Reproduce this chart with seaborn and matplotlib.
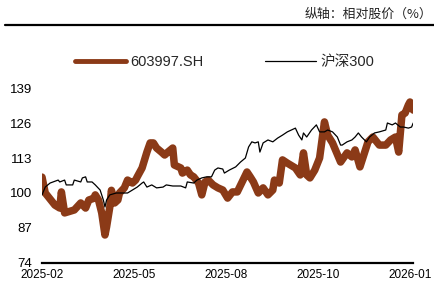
import pandas as pd
import matplotlib.pyplot as plt
import seaborn as sns
from matplotlib.lines import Line2D

# trading-day index and relative price (%)
stock_day = [0, 2, 8, 11, 12, 14, 20, 24, 27, 29, 32, 33, 35, 37, 39, 40, 42, 43, 45, 47,
             48, 51, 53, 56, 58, 59, 62, 65, 67, 69, 71, 74, 76, 78, 81, 82, 86, 87, 90, 92,
             94, 97, 99, 101, 103, 106, 109, 112, 115, 118, 121, 127, 129, 131, 134, 137, 140, 143, 144, 147,
             149, 152, 157, 160, 162, 164, 166, 169, 172, 175, 177, 180, 185, 189, 192, 194, 197, 202, 205, 209,
             213, 216, 219, 221, 223, 225, 227, 228, 230]
stock_val = [105.9, 100.0, 95.5, 94.4, 100.4, 92.6, 93.7, 96.3, 94.4, 97.4, 98.0, 99.3, 97.4, 92.6, 84.4, 87.4, 94.8, 101.0, 96.3, 97.4,
             100.0, 101.9, 104.8, 103.7, 104.8, 106.0, 109.3, 115.2, 118.6, 118.6, 116.7, 115.2, 114.1, 115.2, 116.7, 110.4, 109.3, 107.4, 108.5, 106.7,
             106.0, 103.7, 99.3, 104.1, 104.8, 103.0, 101.9, 101.1, 98.1, 100.4, 100.4, 107.8, 106.0, 104.1, 100.0, 101.9, 99.3, 101.1, 104.8, 103.7,
             112.3, 111.1, 109.3, 106.7, 114.9, 106.7, 105.6, 108.5, 113.0, 126.4, 121.5, 118.6, 111.5, 114.9, 113.4, 116.0, 109.7, 119.0, 120.8, 117.8,
             117.8, 119.7, 120.8, 115.2, 129.0, 129.7, 132.7, 133.8, 130.8]

hs300_day = [0, 2, 5, 10, 11, 14, 15, 19, 20, 24, 25, 27, 28, 31, 33, 36, 38, 39, 40, 42,
             46, 50, 53, 56, 59, 62, 63, 65, 68, 71, 75, 77, 81, 86, 89, 90, 94, 96, 99, 102,
             105, 107, 109, 112, 113, 116, 120, 123, 126, 128, 130, 132, 134, 135, 137, 140, 143, 146, 149, 151,
             152, 157, 159, 161, 162, 164, 167, 170, 172, 175, 177, 180, 183, 185, 186, 189, 192, 194, 196, 198,
             201, 203, 206, 209, 213, 214, 217, 219, 222, 224, 227, 229, 230]
hs300_val = [99.3, 102.2, 103.7, 104.8, 104.1, 104.8, 103.0, 103.0, 104.8, 104.1, 105.6, 106.0, 104.1, 104.1, 103.0, 101.1, 97.4, 94.8, 97.4, 99.3,
             100.0, 100.0, 100.0, 101.1, 102.2, 103.7, 104.1, 102.2, 103.0, 101.9, 102.2, 103.0, 102.6, 102.6, 101.9, 104.1, 103.7, 104.8, 105.6, 106.0,
             106.0, 108.5, 109.3, 108.9, 107.4, 108.5, 109.7, 111.5, 113.0, 117.1, 119.0, 118.6, 119.0, 115.2, 118.6, 119.7, 119.0, 120.4, 121.5, 122.3,
             122.7, 124.1, 121.5, 119.7, 122.3, 120.8, 123.4, 125.3, 122.7, 122.7, 123.4, 122.7, 120.8, 117.8, 117.8, 119.0, 119.7, 120.8, 122.3, 120.8,
             119.0, 120.8, 122.3, 122.7, 123.4, 126.0, 125.3, 126.0, 124.5, 124.5, 124.1, 124.5, 126.0]

tick_days = [0, 57, 114, 171, 228]
tick_labels = ['2025-02', '2025-05', '2025-08', '2025-10', '2026-01']
y_ticks = [74, 87, 100, 113, 126, 139]

sns.set_style('white')
plt.rcParams['font.family'] = ['Liberation Sans', 'Noto Sans CJK SC', 'DejaVu Sans']

fig = plt.figure(figsize=(4.35, 3.04), dpi=100)
ax = fig.add_axes([0.0966, 0.1349, 0.8533, 0.5756])

df_s = pd.DataFrame({'day': stock_day, 'val': stock_val})
df_h = pd.DataFrame({'day': hs300_day, 'val': hs300_val})
sns.lineplot(data=df_s, x='day', y='val', ax=ax, color='#8B3A17', linewidth=5.4,
             solid_capstyle='round', solid_joinstyle='round', label='603997.SH', legend=False)
sns.lineplot(data=df_h, x='day', y='val', ax=ax, color='black', linewidth=0.9,
             label='沪深300', legend=False)

ax.set_xlim(0, 230)
ax.set_ylim(74, 139)
ax.set_yticks(y_ticks)
ax.set_xticks(tick_days)
ax.set_xticklabels(tick_labels)
ax.set_xlabel('')
ax.set_ylabel('')
for s in ['top', 'right', 'left']:
    ax.spines[s].set_visible(False)
ax.spines['bottom'].set_linewidth(1.6)
ax.spines['bottom'].set_color('black')
ax.tick_params(axis='x', direction='inout', length=4, width=1, labelsize=8.5, pad=2.5, colors='black')
ax.tick_params(axis='y', length=0, labelsize=9.5, pad=7, labelcolor='black')

# header
fig.text(0.994, 0.952, '纵轴：相对股价（%）', ha='right', va='center', fontsize=9.3,
         family=['Noto Sans CJK SC', 'DejaVu Sans'], color='#222222')
fig.add_artist(Line2D([0.012, 1.0], [0.918, 0.918], transform=fig.transFigure, color='black', linewidth=1.6))

handles = [Line2D([], [], color='#8B3A17', linewidth=3.5, solid_capstyle='round'),
           Line2D([], [], color='black', linewidth=0.9)]
fig.legend(handles, ['603997.SH', '沪深300'], loc='center', bbox_to_anchor=(0.516, 0.797),
           ncol=2, frameon=False, fontsize=10.5, handlelength=3.5, handletextpad=0.3,
           columnspacing=4.2)

fig.savefig('out.png', dpi=100)
